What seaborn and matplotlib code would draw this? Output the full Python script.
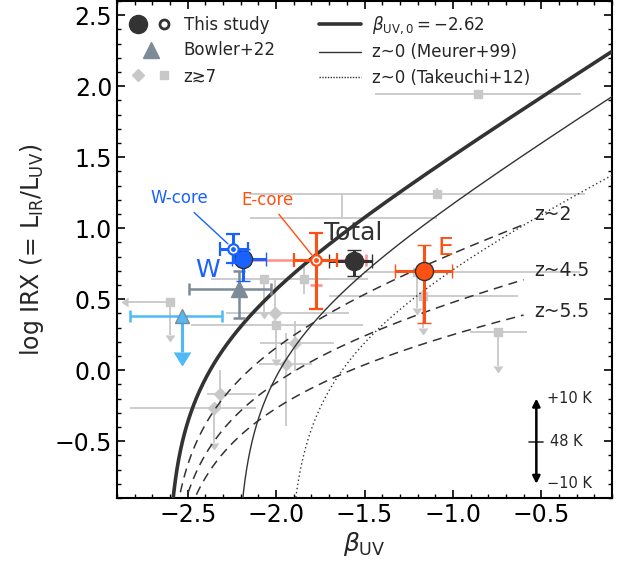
import numpy as np
import matplotlib
matplotlib.use('Agg')
import matplotlib.pyplot as plt
from matplotlib.lines import Line2D
from matplotlib.legend_handler import HandlerTuple
import seaborn as sns

# IRX-beta relations: IRX = 1.75 * (10**(0.4 * slope * (beta - beta0)) - 1)
beta0_fid = -2.62
slope_fid = 1.99
slope_meurer, beta0_meurer = 1.99, -4.43 / 1.99
slope_takeuchi, beta0_takeuchi = 1.58, -3.06 / 1.58
zcurve_labels = ['z~2', 'z~4.5', 'z~5.5']
zcurve_slopes = [1.05, 0.67, 0.47]
zcurve_label_y = [1.10, 0.70, 0.41]

# this study (filled: Total, W, E)
study_names = ['Total', 'W', 'E']
study_beta = [-1.56, -2.185, -1.165]
study_beta_lo = [0.14, 0.065, 0.165]
study_beta_hi = [0.10, 0.125, 0.16]
study_irx = [0.77, 0.78, 0.70]
study_irx_lo = [0.11, 0.155, 0.37]
study_irx_hi = [0.08, 0.075, 0.185]
study_colors = ['#333333', '#1a62ff', '#ff5014']
study_label_pos = [(-1.565, 0.965), (-2.385, 0.705), (-1.045, 0.864)]

# cores (hollow)
core_names = ['W-core', 'E-core']
core_beta = [-2.244, -1.773]
core_beta_lo = [0.075, 0.125]
core_beta_hi = [0.085, 0.12]
core_irx = [0.857, 0.773]
core_irx_lo = [0.10, 0.34]
core_irx_hi = [0.105, 0.19]
core_colors = ['#1a62ff', '#ff5014']
core_label_pos = [(-2.55, 1.21), (-2.05, 1.20)]
# E-core wider (light) error
ecore_wide_beta_lo = 0.42
ecore_wide_beta_hi = 0.28
ecore_wide_irx_lo = 0.17

# Bowler+22
bowler_beta = [-2.21, -2.534]
bowler_beta_lo = [0.28, 0.29]
bowler_beta_hi = [0.18, 0.23]
bowler_irx = [0.569, 0.38]
bowler_irx_lo = [0.20, 0.25]
bowler_irx_hi = [0.13, 0.0]
bowler_uplim = [False, True]
bowler_colors = ['#7d8a97', '#4fbaf5']

# z>~7 literature
z7_marker = ['s', 's', 'none', 's', 's', 's', 's', 's', 's', 's', 'D', 'D', 'D', 'D', 'D']
z7_beta = [-0.858, -1.091, -1.63, -2.068, -1.841, -2.602, -2.0, -0.744, -1.17, -1.205,
           -2.006, -1.892, -1.943, -2.318, -2.352]
z7_irx = [1.947, 1.243, 1.07, 0.64, 0.64, 0.478, 0.316, 0.267, 0.52, 0.69,
          0.40, 0.19, 0.042, -0.169, -0.267]
z7_beta_lo = [0.585, 1.06, 0.52, 0.30, 0.24, 0.233, 0.483, 0.159, 0.53, 0.30,
              0.278, 0.20, 0.154, 0.074, 0.472]
z7_beta_hi = [0.58, 0.84, 0.54, 0.37, 0.36, 0.0, 0.489, 0.164, 0.54, 0.925,
              0.421, 0.22, 0.148, 0.204, 0.238]
z7_irx_lo = [0.0, 0.04, 0.0, 0.23, 0.10, 0.228, 0.239, 0.237, 0.22, 0.255,
             0.10, 0.197, 0.432, 0.10, 0.246]
z7_irx_hi = [0.0, 0.04, 0.17, 0.0, 0.09, 0.0, 0.0, 0.0, 0.0, 0.0,
             0.24, 0.154, 0.218, 0.17, 0.0]
z7_uplim = [False, False, False, True, False, True, True, True, True, True,
            False, False, False, False, True]
z7_beta_uplim = [False, False, False, False, False, True, False, False, False, False,
                 False, False, False, False, False]

# temperature scale bar
tdust_labels = ['+10 K', '48 K', '\u221210 K']
tdust_irx = [-0.20, -0.505, -0.80]
tdust_beta = -0.528

sns.set_style('ticks')
plt.rcParams.update({
    'font.family': ['DejaVu Sans'],
    'xtick.direction': 'in', 'ytick.direction': 'in',
    'xtick.top': True, 'ytick.right': True,
    'xtick.minor.visible': True, 'ytick.minor.visible': True,
    'xtick.major.size': 6, 'ytick.major.size': 6,
    'xtick.minor.size': 3, 'ytick.minor.size': 3,
    'xtick.major.width': 1.2, 'ytick.major.width': 1.2,
    'xtick.minor.width': 1.0, 'ytick.minor.width': 1.0,
    'axes.linewidth': 1.5, 'axes.edgecolor': 'black',
    'xtick.color': 'black', 'ytick.color': 'black',
})

fig = plt.figure(figsize=(6.38, 5.67), dpi=100)
ax = fig.add_axes([117 / 638, 69 / 567, 495 / 638, 497 / 567])

gray = '#c8c8c8'


def log_irx(beta, slope, beta0):
    irx = 1.75 * (10 ** (0.4 * slope * (beta - beta0)) - 1)
    out = np.full_like(beta, np.nan)
    ok = irx > 0
    out[ok] = np.log10(irx[ok])
    return out


# literature points
for i in range(len(z7_beta)):
    b, r = z7_beta[i], z7_irx[i]
    xlo = 0 if z7_beta_uplim[i] else z7_beta_lo[i]
    ylo = 0 if z7_uplim[i] else z7_irx_lo[i]
    ax.errorbar(b, r, xerr=[[xlo], [z7_beta_hi[i]]], yerr=[[ylo], [z7_irx_hi[i]]],
                fmt=z7_marker[i], ms=6 if z7_marker[i] == 's' else 6.5,
                color=gray, ecolor=gray, elinewidth=1.3, capsize=0, zorder=1)
    if z7_uplim[i]:
        ax.errorbar(b, r, yerr=[[z7_irx_lo[i]], [0]], uplims=True, fmt='none',
                    color=gray, ecolor=gray, elinewidth=1.3, capsize=3, zorder=1)
    if z7_beta_uplim[i]:
        ax.errorbar(b, r, xerr=[[z7_beta_lo[i]], [0]], xuplims=True, fmt='none',
                    color=gray, ecolor=gray, elinewidth=1.3, capsize=3, zorder=1)

# relations
beta_grid = np.linspace(-2.9, -0.1, 3000)
sns.lineplot(x=beta_grid, y=log_irx(beta_grid, slope_fid, beta0_fid), ax=ax,
             color='#333333', lw=2.6, legend=False, zorder=3)
sns.lineplot(x=beta_grid, y=log_irx(beta_grid, slope_meurer, beta0_meurer), ax=ax,
             color='#333333', lw=1.0, legend=False, zorder=3)
sns.lineplot(x=beta_grid, y=log_irx(beta_grid, slope_takeuchi, beta0_takeuchi), ax=ax,
             color='#333333', lw=1.0, linestyle=(0, (1, 2)), legend=False, zorder=3)
beta_short = np.linspace(-2.9, -0.6, 3000)
for lab, s, ly in zip(zcurve_labels, zcurve_slopes, zcurve_label_y):
    sns.lineplot(x=beta_short, y=log_irx(beta_short, s, beta0_fid), ax=ax,
                 color='#333333', lw=1.1, linestyle=(0, (6, 4)), legend=False, zorder=3)
    ax.text(-0.54, ly, lab, fontsize=13.5, ha='left', va='center')

# Bowler+22
for i in range(len(bowler_beta)):
    c = bowler_colors[i]
    ax.errorbar(bowler_beta[i], bowler_irx[i],
                xerr=[[bowler_beta_lo[i]], [bowler_beta_hi[i]]],
                yerr=None if bowler_uplim[i] else [[bowler_irx_lo[i]], [bowler_irx_hi[i]]],
                fmt='^', ms=12 if i == 0 else 10, mfc=c, mec='#7d8a97', ecolor=c,
                elinewidth=1.8, capsize=4.5, capthick=1.8, zorder=5)
    if bowler_uplim[i]:
        ax.errorbar(bowler_beta[i], bowler_irx[i], yerr=[[bowler_irx_lo[i]], [0]],
                    uplims=True, fmt='none', color=c, ecolor=c, elinewidth=2.2,
                    capsize=6, zorder=5)

# E-core light error
ax.errorbar(core_beta[1], core_irx[1], xerr=[[ecore_wide_beta_lo], [ecore_wide_beta_hi]],
            yerr=[[ecore_wide_irx_lo], [0]], fmt='none', ecolor='#ff8f8f',
            elinewidth=1.8, capsize=4.5, capthick=1.8, zorder=5)

# this study
for i in range(len(study_names)):
    c = study_colors[i]
    ax.errorbar(study_beta[i], study_irx[i],
                xerr=[[study_beta_lo[i]], [study_beta_hi[i]]],
                yerr=[[study_irx_lo[i]], [study_irx_hi[i]]],
                fmt='o', ms=13, mfc=c, mec='#333333', mew=1.0, ecolor=c,
                elinewidth=2.2, capsize=5, capthick=2.2, zorder=7)
    ax.text(study_label_pos[i][0], study_label_pos[i][1], study_names[i],
            color=c, fontsize=18, ha='center', va='center', zorder=8)

for i in range(len(core_names)):
    c = core_colors[i]
    ax.errorbar(core_beta[i], core_irx[i],
                xerr=[[core_beta_lo[i]], [core_beta_hi[i]]],
                yerr=[[core_irx_lo[i]], [core_irx_hi[i]]],
                fmt='o', ms=7.5, mfc='white', mec=c, mew=1.6, ecolor=c,
                elinewidth=2.2, capsize=5, capthick=2.2, zorder=8)
    ax.plot(core_beta[i], core_irx[i], 'o', ms=2.5, color=c, zorder=9)
    ax.annotate(core_names[i], xy=(core_beta[i], core_irx[i]),
                xytext=core_label_pos[i], color=c, fontsize=12,
                ha='center', va='center',
                arrowprops=dict(arrowstyle='-', color=c, lw=1.0,
                                shrinkA=2, shrinkB=5), zorder=8)

# temperature scale bar
ax.annotate('', xy=(tdust_beta, tdust_irx[0]), xytext=(tdust_beta, tdust_irx[2]),
            arrowprops=dict(arrowstyle='<|-|>', color='black', lw=1.8,
                            mutation_scale=11, shrinkA=0, shrinkB=0))
ax.plot([tdust_beta - 0.04, tdust_beta + 0.035], [tdust_irx[1]] * 2,
        color='#333333', lw=1.2)
for lab, yv in zip(tdust_labels, tdust_irx):
    ax.text(tdust_beta + 0.06 if lab != '48 K' else tdust_beta + 0.078, yv, lab,
            fontsize=10.5, ha='left', va='center')

ax.set_xlim(-2.9, -0.1)
ax.set_ylim(-0.9, 2.6)
ax.set_xticks([-2.5, -2.0, -1.5, -1.0, -0.5])
ax.set_yticks([-0.5, 0.0, 0.5, 1.0, 1.5, 2.0, 2.5])
ax.xaxis.set_minor_locator(matplotlib.ticker.MultipleLocator(0.1))
ax.yaxis.set_minor_locator(matplotlib.ticker.MultipleLocator(0.1))
ax.tick_params(labelsize=17)
ax.set_xlabel('$\\beta_{\\rm UV}$', fontsize=18, labelpad=2)
ax.set_ylabel('log IRX (= L$_{\\rm IR}$/L$_{\\rm UV}$)', fontsize=17, labelpad=6)

# legend
h_study = (Line2D([], [], ls='none', marker='o', ms=13, mfc='#333333', mec='#333333'),
           Line2D([], [], ls='none', marker='o', ms=6.5, mfc='white', mec='#333333', mew=2))
h_bowler = Line2D([], [], ls='none', marker='^', ms=12, color='#7d8a97')
h_z7 = (Line2D([], [], ls='none', marker='D', ms=6, color=gray),
        Line2D([], [], ls='none', marker='s', ms=6, color=gray))
h_fid = Line2D([], [], color='#333333', lw=2.6)
h_meu = Line2D([], [], color='#333333', lw=1.0)
h_tak = Line2D([], [], color='#333333', lw=1.0, ls=(0, (1, 1)))
ax.legend([h_study, h_bowler, h_z7, h_fid, h_meu, h_tak],
          ['This study', 'Bowler+22', 'z\u22737', '$\\beta_{\\rm UV,0}=-2.62$',
           'z~0 (Meurer+99)', 'z~0 (Takeuchi+12)'],
          handler_map={tuple: HandlerTuple(ndivide=None, pad=0.6)},
          ncol=2, loc='upper left', frameon=False, fontsize=12,
          handlelength=2.5, handletextpad=0.7, columnspacing=2.6,
          labelspacing=0.45, borderaxespad=0.4)

fig.savefig('out.png', dpi=100)
